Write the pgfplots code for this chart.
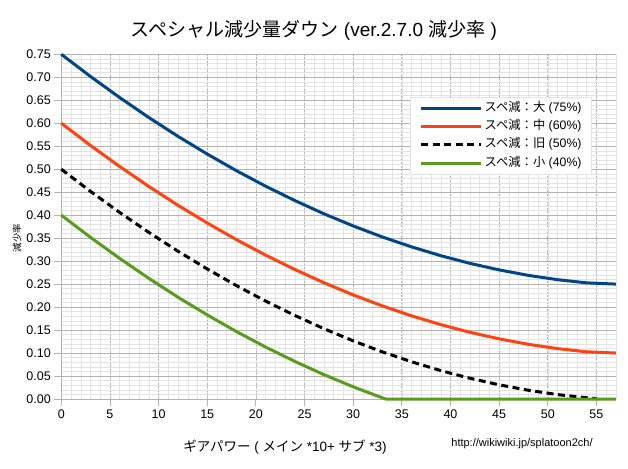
\documentclass[border=0pt]{standalone}
\usepackage{fontspec}
\setmainfont{Liberation Sans}
\newfontfamily\jp{Noto Sans CJK JP}
\usepackage{pgfplots}
\usepackage{pgfplotstable}
\pgfplotsset{compat=1.18}
\definecolor{cblue}{HTML}{004586}
\definecolor{corange}{HTML}{FF420E}
\definecolor{cgreen}{HTML}{579D1C}
\definecolor{gmaj}{HTML}{B3B3B3}
\definecolor{gmin}{HTML}{E3E3E3}

\pgfplotstableread{
x y
0 0.7500
3 0.7017
6 0.6559
9 0.6124
12 0.5714
15 0.5329
18 0.4967
21 0.4630
24 0.4318
27 0.4029
30 0.3765
33 0.3525
36 0.3310
39 0.3118
42 0.2951
45 0.2809
48 0.2690
51 0.2596
54 0.2527
57 0.2500
}\tblue

\pgfplotstableread{
x y
0 0.6000
3 0.5517
6 0.5059
9 0.4624
12 0.4214
15 0.3829
18 0.3467
21 0.3130
24 0.2818
27 0.2529
30 0.2265
33 0.2025
36 0.1810
39 0.1618
42 0.1451
45 0.1309
48 0.1190
51 0.1096
54 0.1027
57 0.1000
}\torange

\pgfplotstableread{
x y
0 0.5000
3 0.4517
6 0.4059
9 0.3624
12 0.3214
15 0.2829
18 0.2467
21 0.2130
24 0.1818
27 0.1529
30 0.1265
33 0.1025
36 0.0810
39 0.0618
42 0.0451
45 0.0309
48 0.0190
51 0.0096
54 0.0027
55 0.0009
}\tblack

\pgfplotstableread{
x y
0 0.4000
3 0.3517
6 0.3059
9 0.2624
12 0.2214
15 0.1829
18 0.1467
21 0.1130
24 0.0818
27 0.0529
30 0.0265
33 0.0025
33.33 0.0000
57 0.0000
}\tgreen

\begin{document}
\begin{tikzpicture}
\path[use as bounding box, fill=white] (-61.3pt,-69pt) rectangle (566.7pt,399pt);
\begin{axis}[
  at={(0,0)}, anchor=south west,
  scale only axis, width=554.6pt, height=344.7pt,
  xmin=0, xmax=57, ymin=0, ymax=0.75,
  clip=false,
  axis x line*=bottom, axis y line*=left,
  axis line style={gmaj, -, line width=0.8pt},
  xtick={0,5,10,15,20,25,30,35,40,45,50,55},
  ytick={0,0.05,0.10,0.15,0.20,0.25,0.30,0.35,0.40,0.45,0.50,0.55,0.60,0.65,0.70,0.75},
  minor xtick={0,1,...,57},
  minor ytick={0,0.01,...,0.75},
  grid=both,
  major grid style={gmaj, line width=0.7pt},
  minor grid style={gmin, line width=0.5pt},
  major x grid style={gmaj, line width=0.7pt, dash pattern=on 2pt off 1.5pt},
  tick align=outside, major tick length=7pt, minor tick length=0pt,
  tick style={gmaj, line width=0.8pt},
  /pgf/number format/assume math mode=true,
  tick label style={font=\fontsize{12.5}{14}\selectfont, text=black},
  y tick label style={/pgf/number format/.cd, fixed, fixed zerofill, precision=2},
  x tick label style={/pgf/number format/.cd, fixed, precision=0},
  legend cell align=left,
  legend style={at={(0.6287,0.876)}, anchor=north west, draw=gmin, fill=white,
    font=\fontsize{12.3}{14}\selectfont, inner xsep=9.5pt, inner ysep=5pt,
    nodes={inner sep=0pt, text height=9pt, text depth=3pt},
    row sep=6.3pt, column sep=2pt},
  legend image code/.code={\draw[#1] (0pt,0pt) -- (60pt,0pt);},
]
\addplot[cblue, line width=3pt, line join=round] table {\tblue};
\addlegendentry{{\jp スペ減：大} (75\%)}
\addplot[corange, line width=3pt, line join=round] table {\torange};
\addlegendentry{{\jp スペ減：中} (60\%)}
\addplot[black, line width=3pt, dash pattern=on 7pt off 4.5pt] table {\tblack};
\addlegendentry{{\jp スペ減：旧} (50\%)}
\addplot[cgreen, line width=3pt, line join=round] table {\tgreen};
\addlegendentry{{\jp スペ減：小} (40\%)}
\end{axis}
\node[font=\fontsize{19}{21}\selectfont] at (252.7pt,368.3pt) {{\jp スペシャル減少量ダウン} (ver.2.7.0 {\jp 減少率} )};
\node[font=\fontsize{13.5}{15}\selectfont] at (223.7pt,-48pt) {{\jp ギアパワー} ( {\jp メイン} *10+ {\jp サブ} *3)};
\node[rotate=90, font=\fontsize{9.5}{11}\selectfont] at (-44.3pt,161pt) {\jp 減少率};
\node[font=\fontsize{11}{13}\selectfont] at (460.7pt,-45pt) {http://wikiwiki.jp/splatoon2ch/};
\end{tikzpicture}
\end{document}
